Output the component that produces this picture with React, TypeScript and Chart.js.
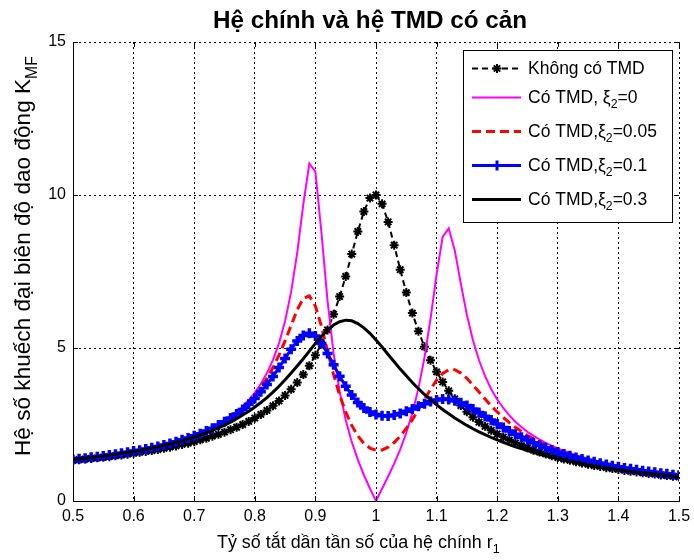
import React, { useEffect, useRef } from "react";
import { Chart, registerables } from "chart.js";

Chart.register(...registerables);

// r1 values (x axis)
const R = [
  0.5, 0.51, 0.52, 0.53, 0.54, 0.55, 0.56, 0.57, 0.58, 0.59,
  0.6, 0.61, 0.62, 0.63, 0.64, 0.65, 0.66, 0.67, 0.68, 0.69,
  0.7, 0.71, 0.72, 0.73, 0.74, 0.75, 0.76, 0.77, 0.78, 0.79,
  0.8, 0.81, 0.82, 0.83, 0.84, 0.85, 0.86, 0.87, 0.88, 0.89,
  0.9, 0.91, 0.92, 0.93, 0.94, 0.95, 0.96, 0.97, 0.98, 0.99,
  1.0, 1.01, 1.02, 1.03, 1.04, 1.05, 1.06, 1.07, 1.08, 1.09,
  1.1, 1.11, 1.12, 1.13, 1.14, 1.15, 1.16, 1.17, 1.18, 1.19,
  1.2, 1.21, 1.22, 1.23, 1.24, 1.25, 1.26, 1.27, 1.28, 1.29,
  1.3, 1.31, 1.32, 1.33, 1.34, 1.35, 1.36, 1.37, 1.38, 1.39,
  1.4, 1.41, 1.42, 1.43, 1.44, 1.45, 1.46, 1.47, 1.48, 1.49,
  1.5,
];

// Không có TMD
const NO_TMD = [
  1.33, 1.35, 1.37, 1.39, 1.41, 1.43, 1.45, 1.48, 1.5, 1.53,
  1.56, 1.59, 1.62, 1.65, 1.68, 1.72, 1.76, 1.8, 1.85, 1.89,
  1.94, 2.0, 2.05, 2.12, 2.18, 2.25, 2.33, 2.41, 2.5, 2.6,
  2.71, 2.83, 2.96, 3.11, 3.27, 3.45, 3.65, 3.87, 4.13, 4.42,
  4.76, 5.14, 5.59, 6.1, 6.68, 7.34, 8.07, 8.81, 9.46, 9.9,
  10.0, 9.71, 9.12, 8.36, 7.56, 6.81, 6.14, 5.55, 5.04, 4.6,
  4.22, 3.89, 3.6, 3.34, 3.12, 2.92, 2.74, 2.58, 2.44, 2.31,
  2.19, 2.09, 1.99, 1.9, 1.81, 1.74, 1.66, 1.6, 1.54, 1.48,
  1.42, 1.37, 1.33, 1.28, 1.24, 1.2, 1.16, 1.13, 1.09, 1.06,
  1.03, 1.0, 0.97, 0.95, 0.92, 0.9, 0.88, 0.85, 0.83, 0.81,
  0.79,
];

// Có TMD, xi2 = 0
const XI_0 = [
  1.36, 1.38, 1.4, 1.43, 1.45, 1.47, 1.5, 1.53, 1.56, 1.59,
  1.63, 1.66, 1.7, 1.74, 1.79, 1.84, 1.89, 1.94, 2.0, 2.07,
  2.14, 2.22, 2.31, 2.4, 2.51, 2.63, 2.76, 2.92, 3.09, 3.3,
  3.54, 3.83, 4.18, 4.61, 5.16, 5.88, 6.84, 8.11, 9.69, 11.03,
  10.76, 8.76, 6.55, 4.83, 3.58, 2.65, 1.93, 1.35, 0.85, 0.41,
  0.0, 0.4, 0.8, 1.22, 1.69, 2.23, 2.88, 3.68, 4.69, 5.96,
  7.41, 8.63, 8.91, 8.19, 7.1, 6.08, 5.25, 4.6, 4.08, 3.66,
  3.32, 3.04, 2.8, 2.59, 2.42, 2.26, 2.13, 2.01, 1.9, 1.81,
  1.72, 1.64, 1.57, 1.5, 1.44, 1.38, 1.33, 1.28, 1.23, 1.19,
  1.15, 1.11, 1.08, 1.04, 1.01, 0.98, 0.95, 0.93, 0.9, 0.88,
  0.86,
];

// Có TMD, xi2 = 0.05
const XI_005 = [
  1.36, 1.38, 1.4, 1.43, 1.45, 1.47, 1.5, 1.53, 1.56, 1.59,
  1.63, 1.66, 1.7, 1.74, 1.79, 1.83, 1.89, 1.94, 2.0, 2.07,
  2.14, 2.21, 2.3, 2.39, 2.5, 2.61, 2.74, 2.89, 3.05, 3.24,
  3.46, 3.72, 4.01, 4.36, 4.77, 5.23, 5.74, 6.25, 6.62, 6.7,
  6.37, 5.71, 4.9, 4.13, 3.46, 2.91, 2.47, 2.13, 1.88, 1.73,
  1.66, 1.67, 1.76, 1.91, 2.12, 2.37, 2.66, 2.98, 3.32, 3.65,
  3.95, 4.17, 4.29, 4.29, 4.18, 4.01, 3.79, 3.56, 3.33, 3.11,
  2.91, 2.73, 2.56, 2.41, 2.27, 2.14, 2.03, 1.93, 1.84, 1.75,
  1.67, 1.6, 1.53, 1.47, 1.41, 1.36, 1.31, 1.26, 1.22, 1.18,
  1.14, 1.1, 1.07, 1.04, 1.0, 0.97, 0.95, 0.92, 0.9, 0.87,
  0.85,
];

// Có TMD, xi2 = 0.1
const XI_01 = [
  1.36, 1.38, 1.4, 1.43, 1.45, 1.47, 1.5, 1.53, 1.56, 1.59,
  1.63, 1.66, 1.7, 1.74, 1.78, 1.83, 1.88, 1.94, 2.0, 2.06,
  2.13, 2.2, 2.29, 2.38, 2.48, 2.59, 2.71, 2.84, 2.99, 3.16,
  3.35, 3.57, 3.81, 4.07, 4.36, 4.66, 4.96, 5.23, 5.41, 5.48,
  5.39, 5.15, 4.82, 4.45, 4.08, 3.75, 3.46, 3.22, 3.04, 2.91,
  2.83, 2.79, 2.78, 2.81, 2.86, 2.93, 3.01, 3.1, 3.18, 3.25,
  3.3, 3.33, 3.32, 3.28, 3.21, 3.12, 3.01, 2.89, 2.77, 2.65,
  2.52, 2.4, 2.29, 2.18, 2.08, 1.99, 1.9, 1.82, 1.74, 1.67,
  1.6, 1.54, 1.48, 1.42, 1.37, 1.32, 1.28, 1.23, 1.19, 1.15,
  1.12, 1.08, 1.05, 1.02, 0.99, 0.96, 0.94, 0.91, 0.89, 0.86,
  0.84,
];

// Có TMD, xi2 = 0.3
const XI_03 = [
  1.36, 1.38, 1.4, 1.42, 1.45, 1.47, 1.5, 1.53, 1.56, 1.59,
  1.62, 1.65, 1.69, 1.73, 1.77, 1.82, 1.86, 1.92, 1.97, 2.03,
  2.09, 2.16, 2.23, 2.31, 2.39, 2.48, 2.58, 2.69, 2.81, 2.93,
  3.07, 3.22, 3.38, 3.56, 3.75, 3.96, 4.18, 4.41, 4.65, 4.9,
  5.15, 5.38, 5.58, 5.75, 5.86, 5.91, 5.89, 5.8, 5.66, 5.48,
  5.26, 5.03, 4.79, 4.55, 4.31, 4.09, 3.87, 3.67, 3.48, 3.31,
  3.14, 2.99, 2.85, 2.71, 2.59, 2.47, 2.36, 2.26, 2.17, 2.08,
  2.0, 1.92, 1.84, 1.77, 1.71, 1.65, 1.59, 1.53, 1.48, 1.43,
  1.38, 1.34, 1.3, 1.26, 1.22, 1.18, 1.15, 1.12, 1.08, 1.06,
  1.03, 1.0, 0.97, 0.95, 0.92, 0.9, 0.88, 0.86, 0.84, 0.82,
  0.8,
];

const X_TICKS = [0.5, 0.6, 0.7, 0.8, 0.9, 1.0, 1.1, 1.2, 1.3, 1.4, 1.5];
const Y_TICKS = [0, 5, 10, 15];

const TITLE = "Hệ chính và hệ TMD có cản";
const X_LABEL = "Tỷ số tắt dần tần số của hệ chính r";
const X_LABEL_SUB = "1";
const Y_LABEL = "Hệ số khuếch đại biên độ dao động K";
const Y_LABEL_SUB = "MF";

type Part = { t: string; sub?: boolean };

const LEGEND_ITEMS: { parts: Part[]; kind: string }[] = [
  { parts: [{ t: "Không có TMD" }], kind: "noTMD" },
  { parts: [{ t: "Có TMD, ξ" }, { t: "2", sub: true }, { t: "=0" }], kind: "xi0" },
  { parts: [{ t: "Có TMD,ξ" }, { t: "2", sub: true }, { t: "=0.05" }], kind: "xi005" },
  { parts: [{ t: "Có TMD,ξ" }, { t: "2", sub: true }, { t: "=0.1" }], kind: "xi01" },
  { parts: [{ t: "Có TMD,ξ" }, { t: "2", sub: true }, { t: "=0.3" }], kind: "xi03" },
];

const FONT = "'Liberation Sans', Arial, Helvetica, sans-serif";

function pts(ys: number[]) {
  return R.map((x, i) => ({ x, y: ys[i] }));
}

function setFont(ctx: CanvasRenderingContext2D, size: number, bold = false) {
  ctx.font = `${bold ? "bold " : ""}${size}px ${FONT}`;
}

function richWidth(ctx: CanvasRenderingContext2D, parts: Part[], size: number, bold = false) {
  let w = 0;
  for (const p of parts) {
    setFont(ctx, p.sub ? size * 0.7 : size, bold);
    w += ctx.measureText(p.t).width;
  }
  return w;
}

function drawRich(
  ctx: CanvasRenderingContext2D,
  parts: Part[],
  x: number,
  y: number,
  size: number,
  bold = false
) {
  let cx = x;
  ctx.textAlign = "left";
  ctx.textBaseline = "alphabetic";
  for (const p of parts) {
    const s = p.sub ? size * 0.7 : size;
    setFont(ctx, s, bold);
    ctx.fillText(p.t, cx, p.sub ? y + size * 0.3 : y);
    cx += ctx.measureText(p.t).width;
  }
}

function fitSize(ctx: CanvasRenderingContext2D, parts: Part[], target: number, bold = false) {
  const w = richWidth(ctx, parts, 20, bold);
  return (20 * target) / w;
}

function seg(ctx: CanvasRenderingContext2D, x1: number, y1: number, x2: number, y2: number) {
  ctx.beginPath();
  ctx.moveTo(x1, y1);
  ctx.lineTo(x2, y2);
  ctx.stroke();
}

const decor = {
  id: "decor",
  afterDraw(chart: any) {
    const { ctx, chartArea: a, scales } = chart;
    const xs = scales.x;
    const ys = scales.y;
    ctx.save();
    ctx.strokeStyle = "#000";
    ctx.fillStyle = "#000";
    ctx.lineWidth = 1;
    ctx.setLineDash([]);

    // inward ticks on all four sides
    for (const v of X_TICKS) {
      const px = Math.round(xs.getPixelForValue(v)) + 0.5;
      seg(ctx, px, a.bottom, px, a.bottom - 5);
      seg(ctx, px, a.top, px, a.top + 5);
    }
    for (const v of Y_TICKS) {
      const py = Math.round(ys.getPixelForValue(v)) + 0.5;
      seg(ctx, a.left, py, a.left + 5, py);
      seg(ctx, a.right, py, a.right - 5, py);
    }

    // legend box
    const bx0 = 463, by0 = 50, bx1 = 672, by1 = 222;
    ctx.fillStyle = "#fff";
    ctx.fillRect(bx0, by0, bx1 - bx0, by1 - by0);
    ctx.strokeStyle = "#000";
    ctx.lineWidth = 1;
    ctx.strokeRect(bx0 + 0.5, by0 + 0.5, bx1 - bx0, by1 - by0);

    const rows = [68, 97, 131, 165, 199];
    const lx0 = 472, lx1 = 521, lmid = 497;
    LEGEND_ITEMS.forEach((item, i) => {
      const ry = rows[i] + 0.5;
      ctx.save();
      if (item.kind === "noTMD") {
        ctx.strokeStyle = "#000";
        ctx.lineWidth = 2;
        ctx.setLineDash([6, 4]);
        seg(ctx, lx0, ry, lx1, ry);
        ctx.setLineDash([]);
        ctx.lineWidth = 2;
        const r = 4.5;
        seg(ctx, lmid - r, ry, lmid + r, ry);
        seg(ctx, lmid, ry - r, lmid, ry + r);
        const d = r * 0.7;
        seg(ctx, lmid - d, ry - d, lmid + d, ry + d);
        seg(ctx, lmid - d, ry + d, lmid + d, ry - d);
      } else if (item.kind === "xi0") {
        ctx.strokeStyle = "#ff00ff";
        ctx.lineWidth = 2;
        seg(ctx, lx0, ry, lx1, ry);
      } else if (item.kind === "xi005") {
        ctx.strokeStyle = "#ff0000";
        ctx.lineWidth = 3;
        ctx.setLineDash([9, 5]);
        seg(ctx, lx0, ry, lx1, ry);
      } else if (item.kind === "xi01") {
        ctx.strokeStyle = "#0000ff";
        ctx.lineWidth = 3;
        seg(ctx, lx0, ry, lx1, ry);
        seg(ctx, lmid, ry - 5, lmid, ry + 5);
      } else {
        ctx.strokeStyle = "#000";
        ctx.lineWidth = 3;
        seg(ctx, lx0, ry, lx1, ry);
      }
      ctx.restore();
      ctx.fillStyle = "#000";
      drawRich(ctx, item.parts, 528, rows[i] + 6, 17.5);
    });

    // title
    ctx.fillStyle = "#000";
    const tParts: Part[] = [{ t: TITLE }];
    const tSize = fitSize(ctx, tParts, 314, true);
    drawRich(ctx, tParts, 213, 28, tSize, true);

    // x label
    const xParts: Part[] = [{ t: X_LABEL }, { t: X_LABEL_SUB, sub: true }];
    const xSize = fitSize(ctx, xParts, 283);
    drawRich(ctx, xParts, 217, 548, xSize);

    // y label (rotated)
    const yParts: Part[] = [{ t: Y_LABEL }, { t: Y_LABEL_SUB, sub: true }];
    const ySize = fitSize(ctx, yParts, 400);
    ctx.save();
    ctx.translate(30, 456);
    ctx.rotate(-Math.PI / 2);
    drawRich(ctx, yParts, 0, 0, ySize);
    ctx.restore();

    ctx.restore();
  },
};

const App = () => {
  const ref = useRef<HTMLCanvasElement>(null);
  useEffect(() => {
    const canvas = ref.current;
    if (!canvas) return;
    const tickFont = { family: FONT, size: 16 };
    const chart = new Chart(canvas, {
      type: "line",
      data: {
        datasets: [
          {
            label: "Không có TMD",
            data: pts(NO_TMD),
            borderColor: "#000",
            backgroundColor: "#000",
            borderWidth: 2,
            borderDash: [6, 4],
            pointStyle: "star",
            pointRadius: 4.5,
            pointBorderWidth: 2,
            pointBorderColor: "#000",
            pointBackgroundColor: "#000",
            order: 5,
          },
          {
            label: "Có TMD, ξ2=0",
            data: pts(XI_0),
            borderColor: "#ff00ff",
            borderWidth: 2,
            pointRadius: 0,
            order: 4,
          },
          {
            label: "Có TMD,ξ2=0.05",
            data: pts(XI_005),
            borderColor: "#ff0000",
            borderWidth: 3,
            borderDash: [9, 5],
            pointRadius: 0,
            order: 3,
          },
          {
            label: "Có TMD,ξ2=0.1",
            data: pts(XI_01),
            borderColor: "#0000ff",
            backgroundColor: "#0000ff",
            borderWidth: 3,
            pointStyle: "cross",
            pointRadius: 5,
            pointBorderWidth: 3.5,
            pointBorderColor: "#0000ff",
            order: 2,
          },
          {
            label: "Có TMD,ξ2=0.3",
            data: pts(XI_03),
            borderColor: "#000",
            borderWidth: 3,
            pointRadius: 0,
            order: 1,
          },
        ],
      },
      options: {
        responsive: false,
        animation: false,
        devicePixelRatio: 1,
        events: [],
        layout: { padding: { top: 42, right: 15, left: 0, bottom: 0 } },
        plugins: {
          legend: { display: false },
          title: { display: false },
          tooltip: { enabled: false },
        },
        elements: { line: { tension: 0 } },
        scales: {
          x: {
            type: "linear",
            min: 0.5,
            max: 1.5,
            afterBuildTicks: (s: any) => {
              s.ticks = X_TICKS.map((v) => ({ value: v }));
            },
            ticks: {
              callback: (v: any) => String(Math.round(Number(v) * 10) / 10),
              font: tickFont,
              color: "#000",
              padding: 6,
              maxRotation: 0,
              autoSkip: false,
            },
            grid: { color: "#000", lineWidth: 1, drawTicks: false },
            border: { display: true, color: "#000", width: 1, dash: [2, 3] },
            afterFit: (s: any) => {
              s.height = 59;
              s.paddingLeft = 0;
              s.paddingRight = 0;
            },
          },
          y: {
            type: "linear",
            min: 0,
            max: 15,
            afterBuildTicks: (s: any) => {
              s.ticks = Y_TICKS.map((v) => ({ value: v }));
            },
            ticks: {
              font: tickFont,
              color: "#000",
              padding: 7,
            },
            grid: { color: "#000", lineWidth: 1, drawTicks: false },
            border: { display: true, color: "#000", width: 1, dash: [2, 3] },
            afterFit: (s: any) => {
              s.width = 73;
              s.paddingTop = 0;
              s.paddingBottom = 0;
            },
          },
        },
      },
      plugins: [decor],
    } as any);
    return () => chart.destroy();
  }, []);

  return (
    <div
      style={{
        position: "absolute",
        left: 0,
        top: 0,
        width: 694,
        height: 560,
        background: "#fff",
      }}
    >
      <canvas ref={ref} width={694} height={560} style={{ display: "block" }} />
    </div>
  );
};

export default App;
